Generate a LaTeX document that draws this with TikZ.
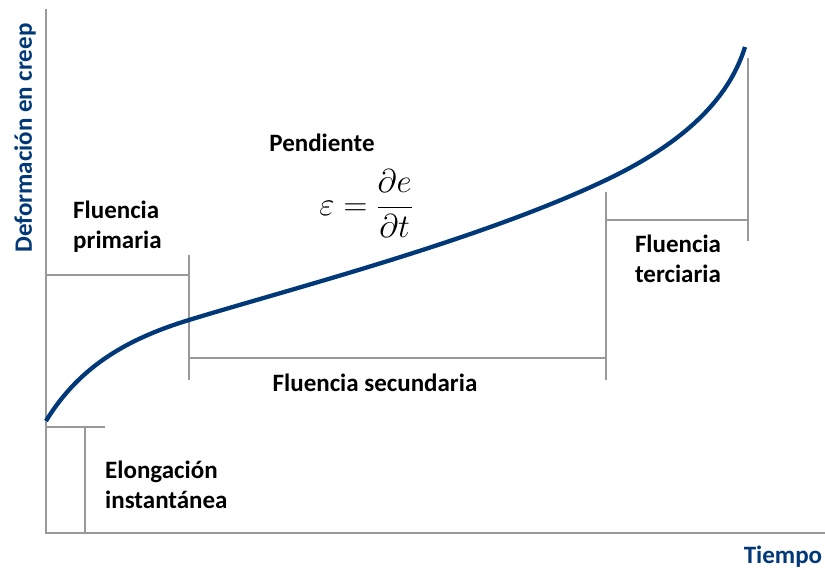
\RequirePackage{fix-cm}
\documentclass[tikz,border=0pt]{standalone}
\usepackage{amsmath}
\usepackage{fontspec}
\setmainfont{Carlito}
\usetikzlibrary{positioning}
\definecolor{mblue}{rgb}{0.0, 0.22, 0.47}
\definecolor{mgray}{rgb}{0.6, 0.6, 0.6}
\tikzset{lbl/.style = {font = \bfseries\fontsize{25}{30}\selectfont, inner sep = 0},
  axlbl/.style = {font = \bfseries\fontsize{25}{30}\selectfont, text = mblue, inner sep = 0},
  brk/.style = {mgray, line width = 1.3pt}}

\begin{document}
\begin{tikzpicture}[x=1pt, y=-1pt]
    \useasboundingbox (0, 0) rectangle (825, 570);
    % axes
    \coordinate (o) at (46, 533);
    \coordinate (ytop) at (46, 9);
    \coordinate (xend) at (825, 533);
    \draw [brk] (ytop) -- (o) -- (xend);
    % brackets
    \draw [brk] (46, 275) -- (189, 275);
    \draw [brk] (189, 255) -- (189, 380);
    \draw [brk] (189, 358) -- (606, 358);
    \draw [brk] (606, 192) -- (606, 380);
    \draw [brk] (606, 220) -- (748, 220);
    \draw [brk] (748, 58) -- (748, 241);
    \draw [brk] (46, 427) -- (105, 427);
    \draw [brk] (85, 427) -- (85, 533);
    % creep curve
    \draw [mblue, line width = 4.3pt] (46, 421) .. controls (80, 365) and (130, 338) .. (189, 320)
      .. controls (290, 289) and (480, 240) .. (606, 180)
      .. controls (690, 140) and (730, 95) .. (745, 47);
    % labels
    \node [axlbl, rotate = 90] (ylab) at (25, 138) {Deformación en creep};
    \node [axlbl] (xlab) at (783, 557) {Tiempo};
    \node [lbl] (pend) at (322, 143) {Pendiente};
    \node [inner sep = 0, font = \fontsize{33}{40}\selectfont] (eq) at (366, 204) {$\varepsilon = \dfrac{\partial e}{\partial t}$};
    \node [lbl, align = left, anchor = west] (prim) at (73, 227) {Fluencia\\primaria};
    \node [lbl] (sec) at (375, 383) {Fluencia secundaria};
    \node [lbl, align = center] (ter) at (678, 259) {Fluencia\\terciaria};
    \node [lbl, align = left, anchor = west] (elong) at (105, 485) {Elongación\\instantánea};
  \end{tikzpicture}
\end{document}
